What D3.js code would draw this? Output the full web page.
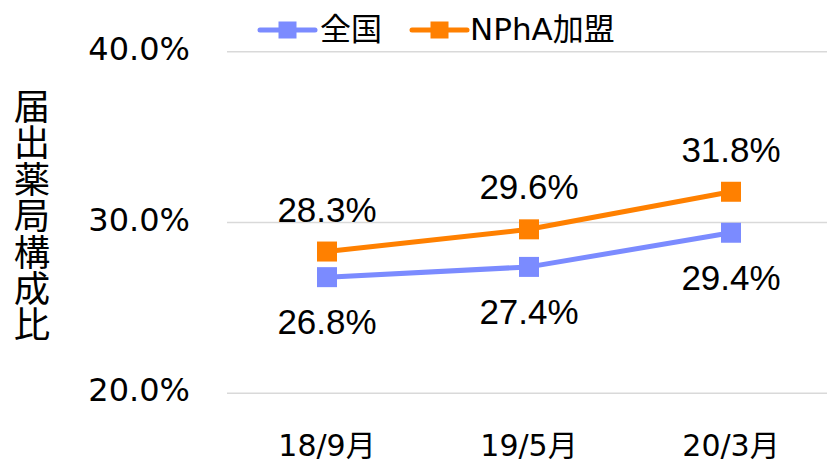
<!DOCTYPE html>
<html><head><meta charset="utf-8">
<script src="https://cdn.jsdelivr.net/npm/d3@7/dist/d3.min.js"></script>
<style>html,body{margin:0;padding:0;background:#fff;overflow:hidden}</style>
</head><body>
<script>
const categories = ["18/9月", "19/5月", "20/3月"];
const seriesNames = ["全国", "NPhA加盟"];
const national = [26.8, 27.4, 29.4];
const npha = [28.3, 29.6, 31.8];
const yTicks = [20, 30, 40];
const yTitle = "届出薬局構成比";

const W = 827, H = 461;
const colors = ["#7B8BFF", "#FF8000"];
const series = [
  {name: seriesNames[0], values: national, color: colors[0], labelPos: "below"},
  {name: seriesNames[1], values: npha, color: colors[1], labelPos: "above"}
];

const svg = d3.select("body").append("svg").attr("width", W).attr("height", H);

const x = d3.scaleBand().domain(categories).range([226, 832]);
const y = d3.scaleLinear().domain([20, 40]).range([393.3, 51.7]);
const cx = d => x(d) + x.bandwidth() / 2;

// gridlines
svg.append("g").selectAll("line").data(yTicks).join("line")
  .attr("x1", 227).attr("x2", W)
  .attr("y1", d => y(d)).attr("y2", d => y(d))
  .attr("stroke", "#d9d9d9").attr("stroke-width", 1.5);

// y tick labels
const tickFont = "'DejaVu Sans', 'Noto Sans CJK JP', sans-serif";
svg.append("g").selectAll("text").data(yTicks).join("text")
  .attr("x", 190).attr("y", d => y(d) + 8)
  .attr("text-anchor", "end")
  .attr("font-family", tickFont).attr("font-size", 32).attr("fill", "#000")
  .text(d => d.toFixed(1) + "%");

// x category labels
svg.append("g").selectAll("text").data(categories).join("text")
  .attr("x", d => cx(d)).attr("y", 455.5)
  .attr("text-anchor", "middle")
  .attr("font-family", tickFont).attr("font-size", 30).attr("fill", "#000")
  .text(d => d);

// y title vertical
svg.append("text")
  .attr("x", 32).attr("y", 88)
  .attr("writing-mode", "vertical-rl")
  .attr("text-anchor", "start")
  .attr("font-family", "'Noto Sans CJK JP', sans-serif").attr("font-size", 36.4).attr("fill", "#000")
  .text(yTitle);

// lines and markers
const line = d3.line().x((d, i) => cx(categories[i])).y(d => y(d));
series.forEach(s => {
  svg.append("path").attr("d", line(s.values))
    .attr("fill", "none").attr("stroke", s.color).attr("stroke-width", 5)
    .attr("stroke-linejoin", "round");
  svg.append("g").selectAll("rect").data(s.values).join("rect")
    .attr("x", (d, i) => cx(categories[i]) - 10).attr("y", d => y(d) - 10)
    .attr("width", 20).attr("height", 20).attr("fill", s.color);
  svg.append("g").selectAll("text").data(s.values).join("text")
    .attr("x", (d, i) => cx(categories[i]))
    .attr("y", d => s.labelPos === "above" ? y(d) - 30 : y(d) + 57)
    .attr("text-anchor", "middle")
    .attr("font-family", "'Liberation Sans', Arial, sans-serif").attr("font-size", 35).attr("fill", "#000")
    .text(d => d.toFixed(1) + "%");
});

// legend
const legend = [
  {s: series[0], x1: 260, x2: 315, tx: 320},
  {s: series[1], x1: 412, x2: 467, tx: 470}
];
const lg = svg.append("g");
legend.forEach(l => {
  lg.append("line").attr("x1", l.x1).attr("x2", l.x2).attr("y1", 30).attr("y2", 30)
    .attr("stroke", l.s.color).attr("stroke-width", 5).attr("stroke-linecap", "round");
  const mx = (l.x1 + l.x2) / 2;
  lg.append("rect").attr("x", mx - 9).attr("y", 21.5).attr("width", 18).attr("height", 17).attr("fill", l.s.color);
  lg.append("text").attr("x", l.tx).attr("y", 39.5)
    .attr("font-family", tickFont).attr("font-size", 31).attr("fill", "#000")
    .text(l.s.name);
});
</script>
</body></html>
